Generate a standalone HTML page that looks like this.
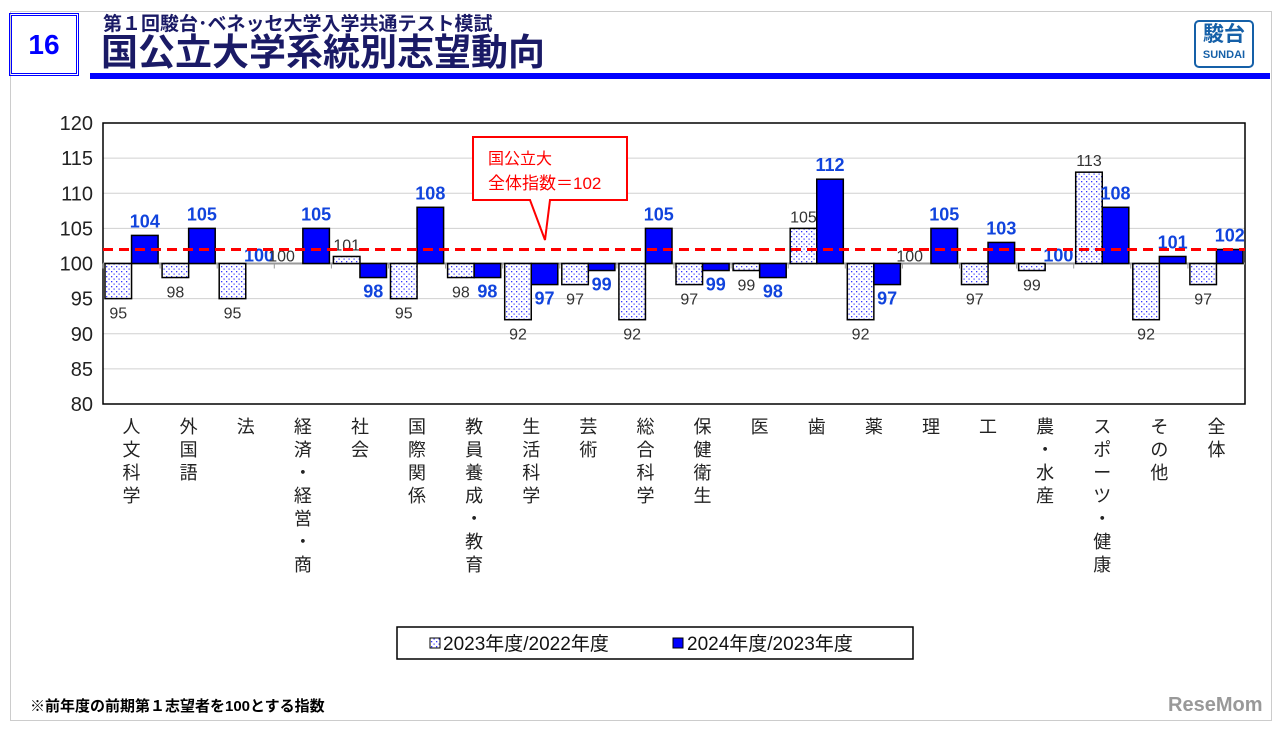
<!DOCTYPE html>
<html><head><meta charset="utf-8"><style>
body{margin:0;width:1280px;height:730px;background:#fff;font-family:"Liberation Sans","Noto Sans CJK JP",sans-serif;overflow:hidden;position:relative}
.abs{position:absolute}
</style></head><body>
<div class="abs" style="left:10px;top:11px;width:1260px;height:708px;border:1px solid #ccc"></div>
<div class="abs" style="left:9px;top:13px;width:70px;height:63px;border:3px double #00f;box-sizing:border-box;color:#00f;font-size:28px;font-weight:bold;text-align:center;line-height:57px">16</div>
<div class="abs" style="left:103px;top:9px;font-size:19px;font-weight:bold;color:#1a1a66">第１回駿台･ベネッセ大学入学共通テスト模試</div>
<div class="abs" style="left:101px;top:32px;font-size:37px;font-weight:bold;color:#1a1a66;line-height:42px">国公立大学系統別志望動向</div>
<div class="abs" style="left:90px;top:73px;width:1180px;height:6px;background:#00f"></div>
<div class="abs" style="left:1194px;top:20px;width:60px;height:48px;border:2px solid #1560a8;border-radius:5px;box-sizing:border-box;color:#1560a8;text-align:center;font-weight:bold"><div style="font-size:21px;line-height:26px">駿台</div><div style="font-size:11px;line-height:14px">SUNDAI</div></div>
<div class="abs" style="left:30px;top:695px;font-size:15px;font-weight:bold">※前年度の前期第１志望者を100とする指数</div>
<div class="abs" style="left:1168px;top:694px;font-size:20px;font-weight:bold;color:#999">ReseMom</div>
<svg class="abs" style="left:0;top:0" width="1280" height="730" id="chart">
<defs><pattern id="dots" width="5" height="5" patternUnits="userSpaceOnUse"><rect width="5" height="5" fill="#fff"/><rect x="1" y="1" width="1.3" height="1.3" fill="#33f"/><rect x="3.5" y="3.5" width="1.2" height="1.2" fill="#33f"/></pattern></defs>
</svg>
<script>
const categories=["人文科学","外国語","法","経済・経営・商","社会","国際関係","教員養成・教育","生活科学","芸術","総合科学","保健衛生","医","歯","薬","理","工","農・水産","スポーツ・健康","その他","全体"];
const series2023=[95,98,95,100,101,95,98,92,97,92,97,99,105,92,100,97,99,113,92,97];
const series2024=[104,105,100,105,98,108,98,97,99,105,99,98,112,97,105,103,100,108,101,102];
const yTicks=[80,85,90,95,100,105,110,115,120];
const overallIndex=102;
const svg=document.getElementById('chart');const NS='http://www.w3.org/2000/svg';
const X0=103,X1=1245,Y0=404,Y1=123,yMin=80,yMax=120;
const y=v=>Y0-(v-yMin)/(yMax-yMin)*(Y0-Y1);
const bw=(X1-X0)/categories.length;
const xc=i=>X0+bw*(i+0.5);
function mk(t,a,txt){const e=document.createElementNS(NS,t);for(const k in a)e.setAttribute(k,a[k]);if(txt!=null)e.textContent=txt;svg.appendChild(e);return e;}
yTicks.forEach(t=>{
 const g=mk('line',{x1:X0,x2:X1,y1:y(t),y2:y(t),stroke:'#d0d0d0','stroke-width':1});
 
 
 const l=mk('text',{x:X0-10,y:y(t)+7,'text-anchor':'end','font-size':20,fill:'#222'},t);
 
 
});
const fr=mk('rect',{x:X0,y:Y1,width:X1-X0,height:Y0-Y1,fill:'none',stroke:'#000','stroke-width':1.5});


const base=mk('line',{x1:X0,x2:X1,y1:y(100),y2:y(100),stroke:'#999','stroke-width':2});


categories.forEach((c,i)=>{
 const half=bw/2-2;
 const a=series2023[i],b=series2024[i];
 const r1=mk('rect',{x:xc(i)-half,y:Math.min(y(a),y(100)),width:half,height:Math.abs(y(a)-y(100)),fill:'url(#dots)',stroke:'#000','stroke-width':1.5});
 
 
 const r2=mk('rect',{x:xc(i),y:Math.min(y(b),y(100)),width:half,height:Math.abs(y(b)-y(100)),fill:'#00f',stroke:'#000','stroke-width':1.5});
 
 
 const la=mk('text',{x:xc(i)-half/2-(a===100?8:0),y:a<100?y(a)+20:(a>100?y(a)-6:y(100)-2),'text-anchor':'middle','font-size':16,fill:'#333'},a);
 
 
 const lb=mk('text',{x:xc(i)+half/2,y:b<100?y(b)+20:(b>100?y(b)-8:y(100)-2),'text-anchor':'middle','font-size':18,'font-weight':'bold',fill:'#1144dd'},b);
 
 
 const tk=mk('line',{x1:X0+bw*i,x2:X0+bw*i,y1:y(100),y2:y(100)+5,stroke:'#999'});
 
 
 const chars=[...c];
 chars.forEach((ch,k)=>{
  const t=mk('text',{x:xc(i),y:433+k*23,'text-anchor':'middle','font-size':18,fill:'#222'},ch);
  
  
 });
});
const ref=mk('line',{x1:X0,x2:X1,y1:y(overallIndex),y2:y(overallIndex),stroke:'#f00','stroke-width':3,'stroke-dasharray':'10,6'});


const co=mk('path',{d:'M473,137 H627 V200 H550 L545,240 L530,200 H473 Z',fill:'#fff',stroke:'#f00','stroke-width':2});


const c1=mk('text',{x:488,y:164,'font-size':16,fill:'#f00'},'国公立大');


const c2=mk('text',{x:488,y:189,'font-size':17,fill:'#f00'},'全体指数＝102');


const lg=mk('rect',{x:397,y:627,width:516,height:32,fill:'#fff',stroke:'#000','stroke-width':1.5});


const s1=mk('rect',{x:430,y:638,width:10,height:10,fill:'url(#dots)',stroke:'#000'});


const t1=mk('text',{x:443,y:650,'font-size':19,fill:'#111'},'2023年度/2022年度');


const s2=mk('rect',{x:673,y:638,width:10,height:10,fill:'#00f',stroke:'#000'});


const t2=mk('text',{x:687,y:650,'font-size':19,fill:'#111'},'2024年度/2023年度');


</script>
</body></html>
